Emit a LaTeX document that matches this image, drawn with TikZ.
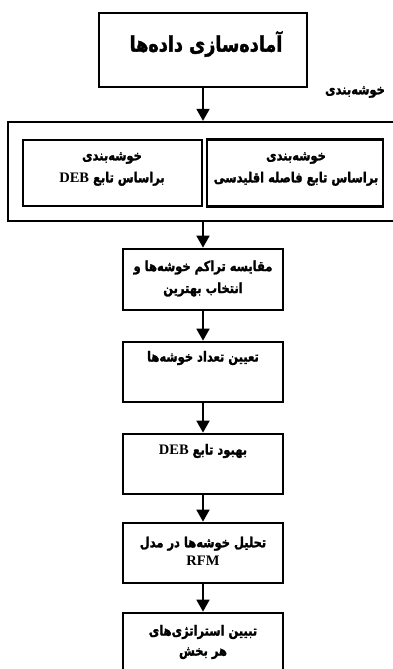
\documentclass[tikz,border=0pt]{standalone}
\usepackage{fontspec}
\setmainfont{Liberation Serif}
\newfontfamily\fa[Script=Arabic, FakeBold=1.6, FakeStretch=0.82]{DejaVu Sans Bold}
\newfontfamily\lat{Liberation Serif Bold}
\TeXXeTstate=1
\usetikzlibrary{arrows.meta}
\newcommand{\rtl}[1]{\beginR #1\endR}
\newcommand{\ltr}[1]{\beginL{\lat\fontsize{14.5}{17}\selectfont #1}\endL{}}
\begin{document}
\begin{tikzpicture}[x=1pt,y=-1pt,
  box/.style={draw, line width=2.7pt, inner sep=0pt},
  txt/.style={inner sep=0pt, align=center, font=\fa\fontsize{14}{22}\selectfont},
  arr/.style={line width=1.8pt, -{Triangle[width=13pt,length=12pt]}}]
\useasboundingbox (0,0) rectangle (393,669);
% boxes
\node[box, minimum width=208pt, minimum height=74pt] (top) at (203,50) {};
\node[box, line width=2.3pt, minimum width=392pt, minimum height=99pt] (outer) at (204,171.5) {};
\node[box, minimum width=179pt, minimum height=66pt] (inl) at (112.5,173) {};
\node[box, minimum width=176pt, minimum height=67pt] (inr) at (295,173) {};
\node[box, minimum width=160pt, minimum height=61pt] (b1) at (203,279.5) {};
\node[box, minimum width=160pt, minimum height=60pt] (b2) at (203,372) {};
\node[box, minimum width=160pt, minimum height=60pt] (b3) at (203,464) {};
\node[box, minimum width=160pt, minimum height=60pt] (b4) at (203,553) {};
\node[box, minimum width=160pt, minimum height=64pt] (b5) at (203,645) {};
% texts
\node[txt, font=\fa\fontsize{21.5}{22}\selectfont] (ttop) at (206,44) {\rtl{آماده‌سازی داده‌ها}};
\node[txt] (tlab) at (355,92) {\rtl{خوشه‌بندی}};
\node[txt] (tinl) at (112,169) {\rtl{خوشه‌بندی}\\\rtl{براساس تابع \ltr{DEB}}};
\node[txt] (tinr) at (296,169) {\rtl{خوشه‌بندی}\\\rtl{براساس تابع فاصله اقلیدسی}};
\node[txt] (t1) at (203,278.5) {\rtl{مقایسه تراکم خوشه‌ها و}\\\rtl{انتخاب بهترین}};
\node[txt] (t2) at (203,358) {\rtl{تعیین تعداد خوشه‌ها}};
\node[txt] (t3) at (203,451) {\rtl{بهبود تابع \ltr{DEB}}};
\node[txt, font=\fa\fontsize{14}{18}\selectfont] (t4) at (203,551) {\rtl{تحلیل خوشه‌ها در مدل}\\\ltr{RFM}};
\node[txt, font=\fa\fontsize{14}{20}\selectfont] (t5) at (203,642) {\rtl{تبیین استراتژی‌های}\\\rtl{هر بخش}};
% arrows
\draw[arr] (top.south) -- (top.south |- outer.north);
\draw[arr] (outer.south -| b1.north) -- (b1.north);
\draw[arr] (b1.south) -- (b2.north);
\draw[arr] (b2.south) -- (b3.north);
\draw[arr] (b3.south) -- (b4.north);
\draw[arr] (b4.south) -- (b5.north);
\end{tikzpicture}
\end{document}
